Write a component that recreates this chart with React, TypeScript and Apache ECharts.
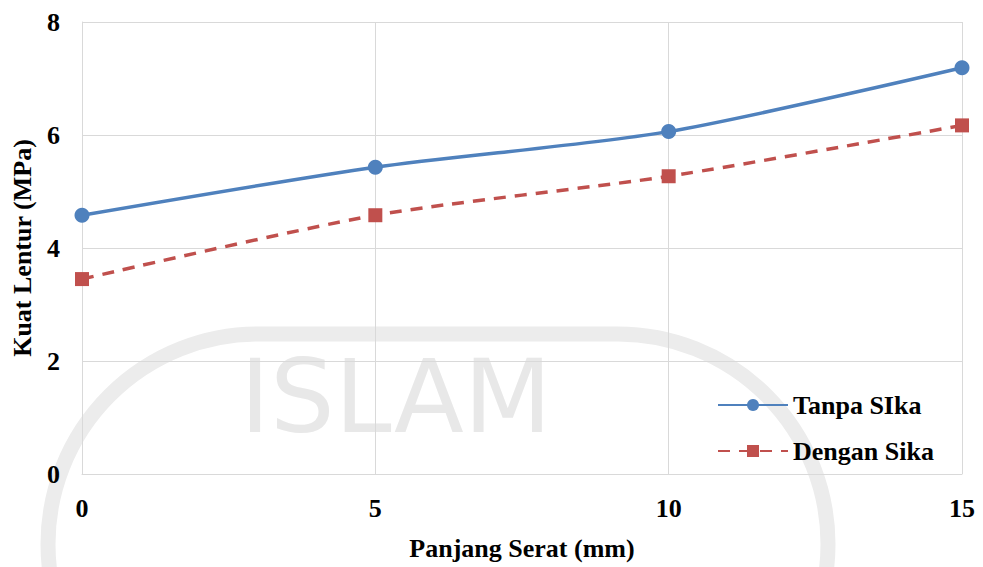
import React, { useEffect, useRef } from "react";
import * as echarts from "echarts";

const xValues = [0, 5, 10, 15];
const tanpaSika = [4.58, 5.43, 6.06, 7.19];
const denganSika = [3.45, 4.58, 5.27, 6.17];
const seriesNames = ["Tanpa SIka", "Dengan Sika"];
const xTitle = "Panjang Serat (mm)";
const yTitle = "Kuat Lentur (MPa)";
const watermarkText = "ISLAM";

const FONT = "'Liberation Serif', 'Times New Roman', serif";

export default function App() {
  const ref = useRef<HTMLDivElement>(null);
  useEffect(() => {
    if (!ref.current) return;
    const chart = echarts.init(ref.current, null, { renderer: "svg" });
    chart.setOption({
      animation: false,
      backgroundColor: "#ffffff",
      graphic: [
        {
          type: "rect",
          z: -10,
          silent: true,
          shape: { x: 48, y: 334, width: 780, height: 420, r: 210 },
          style: { fill: "none", stroke: "#ECECEC", lineWidth: 15 },
        },
        {
          type: "text",
          z: -10,
          silent: true,
          left: 240,
          top: 345,
          style: {
            text: watermarkText,
            fontFamily: "'DejaVu Sans', sans-serif",
            fontSize: 102,
            fill: "#E8E8E8",
          },
        },
      ],
      grid: { left: 82, right: 21, top: 22, bottom: 93, containLabel: false, outerBoundsMode: "none" },
      legend: {
        orient: "vertical",
        left: 712,
        top: 387,
        itemWidth: 70,
        itemHeight: 15,
        itemGap: 20,
        textStyle: { fontFamily: FONT, fontWeight: "bold", fontSize: 26, color: "#000" },
        data: seriesNames,
      },
      xAxis: {
        type: "value",
        min: 0,
        max: 15,
        interval: 5,
        name: xTitle,
        nameLocation: "middle",
        nameGap: 61,
        nameTextStyle: { fontFamily: FONT, fontWeight: "bold", fontSize: 26, color: "#000" },
        axisLine: { show: true, lineStyle: { color: "#D9D9D9", width: 1 } },
        axisTick: { show: false },
        axisLabel: { margin: 21, fontFamily: FONT, fontWeight: "bold", fontSize: 26, color: "#000" },
        splitLine: { show: true, lineStyle: { color: "#D9D9D9", width: 1 } },
      },
      yAxis: {
        type: "value",
        min: 0,
        max: 8,
        interval: 2,
        name: yTitle,
        nameLocation: "middle",
        nameGap: 47,
        nameTextStyle: { fontFamily: FONT, fontWeight: "bold", fontSize: 26, color: "#000" },
        axisLine: { show: true, lineStyle: { color: "#D9D9D9", width: 1 } },
        axisTick: { show: false },
        axisLabel: { margin: 22, fontFamily: FONT, fontWeight: "bold", fontSize: 26, color: "#000" },
        splitLine: { show: true, lineStyle: { color: "#D9D9D9", width: 1 } },
      },
      series: [
        {
          name: seriesNames[0],
          type: "line",
          smooth: 0.25,
          data: xValues.map((x, i) => [x, tanpaSika[i]]),
          symbol: "circle",
          symbolSize: 15,
          lineStyle: { color: "#4F81BD", width: 3.5 },
          itemStyle: { color: "#4F81BD" },
        },
        {
          name: seriesNames[1],
          type: "line",
          smooth: 0.25,
          data: xValues.map((x, i) => [x, denganSika[i]]),
          symbol: "rect",
          symbolSize: 14,
          lineStyle: { color: "#C0504D", width: 3.5, type: [12, 9] },
          itemStyle: { color: "#C0504D" },
        },
      ],
    });
    return () => chart.dispose();
  }, []);
  return <div ref={ref} style={{ width: 983, height: 567, position: "absolute", left: 0, top: 0 }} />;
}
